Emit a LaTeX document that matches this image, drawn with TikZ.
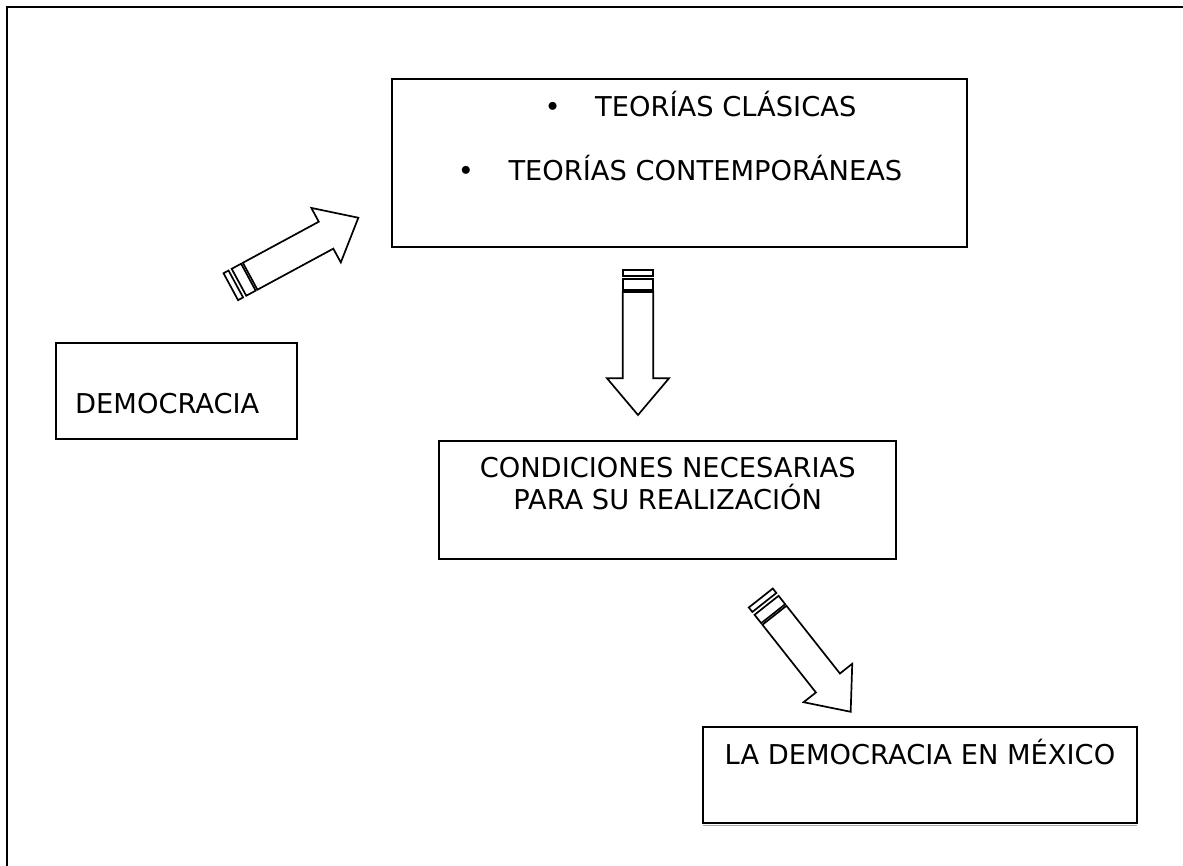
\documentclass[tikz,border=0pt]{standalone}
\usepackage{fontspec}
\setmainfont{DejaVu Sans}
\begin{document}
\begin{tikzpicture}[x=1pt,y=-1pt,
  framebox/.style={draw=black, line width=1.9pt, inner sep=0pt, fill=white},
  txt/.style={inner sep=0pt, font=\fontsize{27.3}{32}\selectfont},
  blockline/.style={draw=black, line width=1.7pt, line join=miter, fill=white},
  stripedarrow/.pic={
    \draw[blockline] (0,-15.3) rectangle (5.7,15.3);
    \draw[blockline] (9.3,-15.3) rectangle (20,15.3);
    \draw[blockline] (22,-15.3) -- (108.3,-15.3) -- (108.3,-31) -- (145,0)
      -- (108.3,31) -- (108.3,15.3) -- (22,15.3) -- cycle;
  }]
\useasboundingbox (0,0) rectangle (1183,866);
% outer frame (top and left sides only)
\coordinate (frameTR) at (1190,6.7);
\coordinate (frameTL) at (7.3,6.7);
\coordinate (frameBL) at (7.3,875);
\draw[line width=1.9pt] (frameTR) -- (frameTL) -- (frameBL);

% boxes
\node[framebox, minimum width=241pt, minimum height=95.4pt] (dem) at (176.2,391) {};
\node[framebox, minimum width=575.6pt, minimum height=167.4pt] (teo) at (679.5,163) {};
\node[framebox, minimum width=456.7pt, minimum height=118.3pt] (cond) at (667.7,500.2) {};
\draw[gray!70, line width=1.2pt] (703.3,825.8) -- (1136.7,825.8);
\node[framebox, minimum width=433.4pt, minimum height=96pt] (mex) at (920,775.3) {};

% texts
\node[txt, anchor=base west] (demtxt) at (75,413.3) {DEMOCRACIA};
\node[txt, anchor=base west] (teo1) at (544.3,116.7) {\makebox[50.7pt][l]{•}TEORÍAS CLÁSICAS};
\node[txt, anchor=base west] (teo2) at (457.6,180.7) {\makebox[50.7pt][l]{•}TEORÍAS CONTEMPORÁNEAS};
\node[txt, align=center, anchor=base] (condtxt) at (667.7,509.3) {CONDICIONES NECESARIAS\\PARA SU REALIZACIÓN};
\node[txt, anchor=base west] (mextxt) at (724.5,764) {LA DEMOCRACIA EN MÉXICO};

% block arrows
\coordinate (a1) at (230.8,286.7);
\coordinate (a2) at (638,270);
\coordinate (a3) at (760.8,598);
\pic[rotate=28.4] at (a1) {stripedarrow};
\pic[rotate=-90] at (a2) {stripedarrow};
\pic[rotate=-51.7] at (a3) {stripedarrow};
\end{tikzpicture}
\end{document}
